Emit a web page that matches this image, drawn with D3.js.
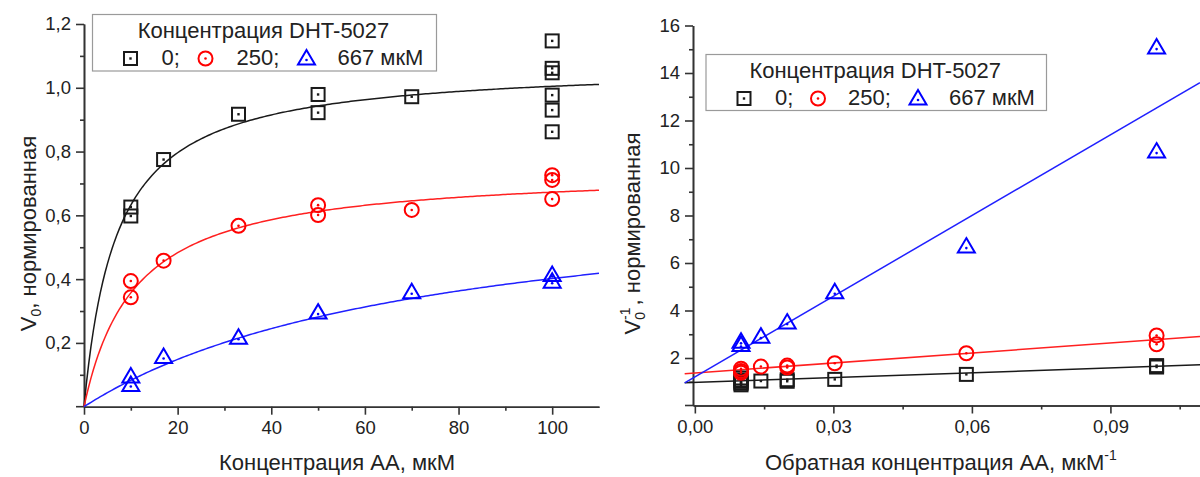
<!DOCTYPE html>
<html>
<head>
<meta charset="utf-8">
<script src="https://cdn.jsdelivr.net/npm/d3@7"></script>
<style>
  html, body { margin: 0; padding: 0; background: #fff; }
  svg { display: block; }
  text { font-family: "Liberation Sans", Arial, sans-serif; fill: #222; }
</style>
</head>
<body>
<svg id="chart" width="1200" height="477"></svg>
<script>
// ---- Michaelis–Menten panel: V0 vs [AA] ----
const x0 = [10, 10, 17, 33, 50, 50, 70, 100, 100, 100, 100, 100, 100];
const v0 = [0.626, 0.598, 0.775, 0.917, 0.979, 0.922, 0.972, 1.147, 1.061, 1.047, 0.977, 0.930, 0.862];
const x250 = [10, 10, 17, 33, 50, 50, 70, 100, 100, 100];
const v250 = [0.394, 0.343, 0.458, 0.567, 0.632, 0.601, 0.617, 0.726, 0.711, 0.651];
const x667 = [10, 10, 17, 33, 50, 70, 100, 100];
const v667 = [0.095, 0.068, 0.156, 0.216, 0.295, 0.359, 0.413, 0.392];
// fitted parameters (Vmax, Km) for each inhibitor concentration
const vmaxFit = [1.075, 0.746, 0.702];
const kmFit = [7.0, 10.9, 74.7];

// ---- Lineweaver–Burk panel: 1/V0 vs 1/[AA] ----
const rx0 = [0.01, 0.01, 0.01, 0.01, 0.01, 0.01, 0.0143, 0.02, 0.02, 0.0303, 0.0588, 0.1, 0.1];
const ry0 = [0.87, 0.94, 0.95, 1.02, 1.075, 1.16, 1.03, 1.02, 1.085, 1.10, 1.31, 1.62, 1.68];
const rx250 = [0.01, 0.01, 0.01, 0.0143, 0.02, 0.02, 0.0303, 0.0588, 0.1, 0.1];
const ry250 = [1.38, 1.45, 1.55, 1.64, 1.60, 1.68, 1.78, 2.20, 2.95, 2.58];
const rx667 = [0.01, 0.01, 0.0143, 0.02, 0.0303, 0.0588, 0.1, 0.1];
const ry667 = [2.55, 2.68, 2.90, 3.49, 4.77, 6.69, 15.07, 10.69];
// linear fits: intercept, slope
const lbIntercept = [0.97, 1.37, 1.2];
const lbSlope = [6.8, 14.0, 113.3];
const lbRange = [-0.0022, 0.1094];

// ticks
const leftXTicks = [0, 20, 40, 60, 80, 100];
const leftXMinor = [10, 30, 50, 70, 90];
const leftYTicks = [0.2, 0.4, 0.6, 0.8, 1.0, 1.2];
const leftYMinor = [0.1, 0.3, 0.5, 0.7, 0.9, 1.1];
const rightXTicks = [0, 0.03, 0.06, 0.09];
const rightXMinor = [0.015, 0.045, 0.075, 0.105];
const rightYTicks = [2, 4, 6, 8, 10, 12, 14, 16];
const rightYMinor = [1, 3, 5, 7, 9, 11, 13, 15];

const seriesNames = ["0;", "250;", "667 мкМ"];
const legendTitle = "Концентрация DHT-5027";
const colors = ["#1a1a1a", "#ff0000", "#0000ff"];
const lineColors = ["#1a1a1a", "#ff2020", "#2020ff"];
const shapes = ["square", "circle", "triangle"];

const svg = d3.select("#chart");
const comma = s => s.replace(".", ",");
const titleSize = "22px";
const subSize = "14px";

// marker drawing
function marker(g, shape, color) {
  if (shape === "square") {
    g.append("rect").attr("x", -6.5).attr("y", -6.5).attr("width", 13).attr("height", 13)
      .attr("fill", "none").attr("stroke", color).attr("stroke-width", 2);
    g.append("rect").attr("x", -1.2).attr("y", -1.2).attr("width", 2.4).attr("height", 2.4).attr("fill", color);
  } else if (shape === "circle") {
    g.append("circle").attr("r", 7).attr("fill", "none").attr("stroke", color).attr("stroke-width", 2);
    g.append("circle").attr("r", 1.3).attr("fill", color);
  } else {
    g.append("path").attr("d", "M0,-8.5L8.5,6L-8.5,6Z")
      .attr("fill", "none").attr("stroke", color).attr("stroke-width", 2).attr("stroke-linejoin", "miter");
    g.append("circle").attr("cy", 1.5).attr("r", 1.3).attr("fill", color);
  }
}

function styleAxis(g) {
  g.selectAll("path.domain").attr("stroke", "#333").attr("stroke-width", 1.6);
  g.selectAll("line").attr("stroke", "#333").attr("stroke-width", 1.6);
  g.selectAll("text").style("font-size", "18.5px").attr("fill", "#222");
}

function drawAxes(x, y, xT, xM, yT, yM, xFmt, yFmt) {
  const [xa] = x.range();
  const [ya] = y.range();
  const gx = svg.append("g").attr("transform", `translate(0,${ya})`);
  gx.call(d3.axisBottom(x).tickValues(xT).tickFormat(xFmt).tickSize(8).tickSizeOuter(0).tickPadding(6));
  svg.append("g").attr("transform", `translate(0,${ya})`)
    .call(d3.axisBottom(x).tickValues(xM).tickFormat("").tickSize(4).tickSizeOuter(0))
    .call(styleAxis);
  styleAxis(gx);
  const gy = svg.append("g").attr("transform", `translate(${xa},0)`);
  gy.call(d3.axisLeft(y).tickValues(yT).tickFormat(yFmt).tickSize(8).tickSizeOuter(0).tickPadding(5));
  svg.append("g").attr("transform", `translate(${xa},0)`)
    .call(d3.axisLeft(y).tickValues(yM).tickFormat("").tickSize(4).tickSizeOuter(0))
    .call(styleAxis);
  // tick at zero on the y axis (no label)
  svg.append("line").attr("x1", xa - 8).attr("x2", xa).attr("y1", ya).attr("y2", ya)
    .attr("stroke", "#333").attr("stroke-width", 1.6);
  styleAxis(gy);
}

function drawPoints(x, y, xs, ys, shape, color) {
  xs.forEach((xv, i) => {
    const g = svg.append("g").attr("transform", `translate(${x(xv)},${y(ys[i])})`);
    marker(g, shape, color);
  });
}

function drawLegend(bx, by, bw, bh, items) {
  const g = svg.append("g");
  g.append("rect").attr("x", bx).attr("y", by).attr("width", bw).attr("height", bh)
    .attr("fill", "#fff").attr("stroke", "#9a9a9a").attr("stroke-width", 1.2);
  g.append("text").attr("x", bx + bw / 2 - 1).attr("y", by + 23).attr("text-anchor", "middle")
    .style("font-size", titleSize).text(legendTitle);
  items.forEach(it => {
    const m = g.append("g").attr("transform", `translate(${bx + it.mx},${by + 44})`);
    marker(m, it.shape, it.color);
    g.append("text").attr("x", bx + it.tx).attr("y", by + 50).style("font-size", titleSize).text(it.label);
  });
}

// ================= Left panel =================
const xL = d3.scaleLinear().domain([0, 110]).range([84, 599]);
const yL = d3.scaleLinear().domain([0, 1.2]).range([406.7, 24]);

drawAxes(xL, yL, leftXTicks, leftXMinor, leftYTicks, leftYMinor,
  d => String(d), d => comma(d.toFixed(1)));

const sGrid = d3.range(0, 110.01, 0.5);
vmaxFit.forEach((vm, k) => {
  const line = d3.line().x(s => xL(s)).y(s => yL(vm * s / (kmFit[k] + s)));
  svg.append("path").attr("d", line(sGrid)).attr("fill", "none")
    .attr("stroke", lineColors[k]).attr("stroke-width", 1.5);
});

drawPoints(xL, yL, x0, v0, shapes[0], colors[0]);
drawPoints(xL, yL, x250, v250, shapes[1], colors[1]);
drawPoints(xL, yL, x667, v667, shapes[2], colors[2]);

drawLegend(92.5, 14.5, 344, 56.5, [
  { shape: shapes[0], color: colors[0], mx: 38, tx: 69, label: seriesNames[0] },
  { shape: shapes[1], color: colors[1], mx: 113, tx: 144, label: seriesNames[1] },
  { shape: shapes[2], color: colors[2], mx: 214, tx: 245, label: seriesNames[2] }
]);

// axis titles
svg.append("text").attr("x", 337).attr("y", 470).attr("text-anchor", "middle")
  .style("font-size", titleSize).text("Концентрация АА, мкМ");

const tL = svg.append("text").attr("transform", "translate(35.5,233.5) rotate(-90)")
  .attr("text-anchor", "middle").style("font-size", titleSize);
tL.append("tspan").text("V");
tL.append("tspan").attr("dy", 5).style("font-size", subSize).text("0");
tL.append("tspan").attr("dy", -5).text(", нормированная");

// ================= Right panel =================
const xR = d3.scaleLinear().domain([-0.0004, 0.1094]).range([693, 1200]);
const yR = d3.scaleLinear().domain([0, 16]).range([405.5, 25.5]);

drawAxes(xR, yR, rightXTicks, rightXMinor, rightYTicks, rightYMinor,
  d => comma(d.toFixed(2)), d => String(d));

lbIntercept.forEach((b, k) => {
  const line = d3.line().x(u => xR(u)).y(u => yR(b + lbSlope[k] * u));
  svg.append("path").attr("d", line(lbRange)).attr("fill", "none")
    .attr("stroke", lineColors[k]).attr("stroke-width", 1.5);
});

drawPoints(xR, yR, rx0, ry0, shapes[0], colors[0]);
drawPoints(xR, yR, rx250, ry250, shapes[1], colors[1]);
drawPoints(xR, yR, rx667, ry667, shapes[2], colors[2]);

drawLegend(706, 54.5, 340.5, 56, [
  { shape: shapes[0], color: colors[0], mx: 38, tx: 69, label: seriesNames[0] },
  { shape: shapes[1], color: colors[1], mx: 112, tx: 142, label: seriesNames[1] },
  { shape: shapes[2], color: colors[2], mx: 212, tx: 243, label: seriesNames[2] }
]);

const tX = svg.append("text").attr("x", 765).attr("y", 470).style("font-size", titleSize);
tX.append("tspan").text("Обратная концентрация АА, мкМ");
tX.append("tspan").attr("dy", -10).style("font-size", subSize).text("-1");

const tR = svg.append("text").attr("transform", "translate(640,233.5) rotate(-90)")
  .attr("text-anchor", "middle").style("font-size", titleSize);
tR.append("tspan").text("V");
tR.append("tspan").attr("dy", 5).style("font-size", subSize).text("0");
tR.append("tspan").attr("dx", -8).attr("dy", -15).style("font-size", subSize).text("-1");
tR.append("tspan").attr("dx", 2).attr("dy", 10).text(", нормированная");
</script>
</body>
</html>
